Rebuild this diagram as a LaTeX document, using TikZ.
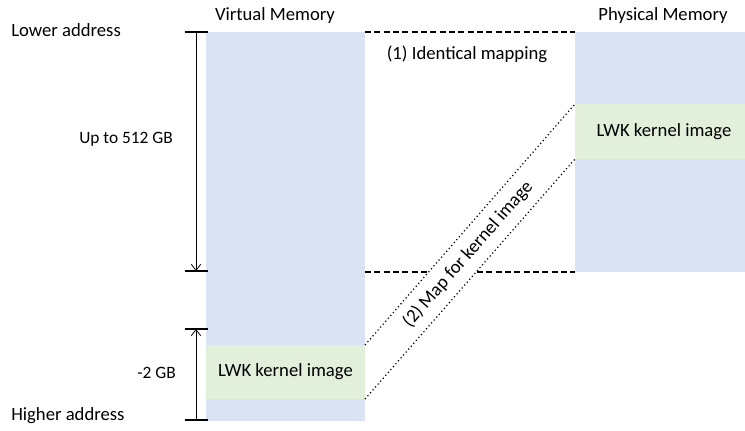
\documentclass[tikz,border=0pt]{standalone}
\usepackage{fontspec}
\setmainfont{Carlito}
\usetikzlibrary{arrows.meta,calc}
\definecolor{memblue}{HTML}{DAE3F3}
\definecolor{imggreen}{HTML}{E2EFDA}
\tikzset{
  lbl/.style={font=\fontsize{14}{16}\selectfont, inner sep=0pt},
  sizelbl/.style={font=\fontsize{13}{15}\selectfont, inner sep=0pt, anchor=east},
  tick/.style={line width=1.2pt},
  span/.style={line width=0.6pt, -{Straight Barb[length=4.5pt,width=7pt]}},
  idmap/.style={line width=1.1pt, dash pattern=on 4.5pt off 2.5pt},
  kmap/.style={line width=0.9pt, dotted},
}
\begin{document}
\begin{tikzpicture}[x=0.75pt,y=-0.75pt]
  \useasboundingbox (0,0) rectangle (745,430);
  % memory columns
  \coordinate (VT) at (206,32);  \coordinate (VB) at (365,421);
  \coordinate (PT) at (575,32);  \coordinate (PB) at (745,272);
  \fill[memblue] (VT) rectangle (VB);
  \fill[memblue] (PT) rectangle (PB);
  \fill[imggreen] (206,345) rectangle (365,399);
  \fill[imggreen] (575,104) rectangle (745,159);
  \node (vimg) [lbl] at (285.5,372) {LWK kernel image};
  \node (pimg) [lbl] at (664,131.5) {LWK kernel image};
  \node (vmem) [lbl] at (275,16) {Virtual Memory};
  \node (pmem) [lbl] at (663,16) {Physical Memory};
  % (1) identical mapping
  \coordinate (VL) at (365,32);  \coordinate (PL) at (575,32);
  \coordinate (VU) at (365,272); \coordinate (PU) at (575,272);
  \draw[idmap] (VL) -- (PL);
  \draw[idmap] (VU) -- (PU);
  \node (idlbl) [lbl] at (467,54) {(1) Identical mapping};
  % (2) map for kernel image
  \coordinate (KA) at (365,345); \coordinate (KB) at (575,104);
  \coordinate (KC) at (365,399); \coordinate (KD) at (575,159);
  \fill[white] (KA) -- (KB) -- (KD) -- (KC) -- cycle;
  \draw[kmap] (KA) -- (KB);
  \draw[kmap] (KC) -- (KD);
  \path ($(KA)!0.5!(KC)$) -- ($(KB)!0.5!(KD)$) node (klbl) [lbl,pos=0.49,sloped] {(2) Map for kernel image};
  % address ranges
  \coordinate (R1) at (196,32);  \coordinate (R2) at (196,271);
  \coordinate (R3) at (196,329); \coordinate (R4) at (196,420);
  \foreach \r in {R1,R2,R3,R4} \draw[tick] ([xshift=-8.5pt]\r) -- ([xshift=9pt]\r);
  \draw[span] (R1) -- (R2);
  \draw[span] (R4) -- (R3);
  \node (up) [sizelbl] at (173,139) {Up to 512 GB};
  \node (gb) [sizelbl] at (176,373) {-2 GB};
  \node (low) [lbl,anchor=west] at (11,30) {Lower address};
  \node (high) [lbl,anchor=west] at (11,416) {Higher address};
\end{tikzpicture}
\end{document}
